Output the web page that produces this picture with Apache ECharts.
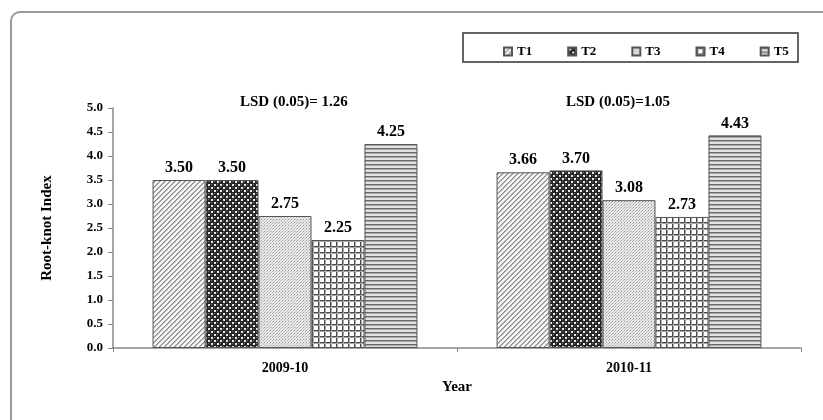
<!DOCTYPE html>
<html><head><meta charset="utf-8">
<script src="https://cdn.jsdelivr.net/npm/echarts@6/dist/echarts.min.js"></script>
<style>html,body{margin:0;padding:0;background:#fff}#c{width:823px;height:420px}</style>
</head><body><div id="c"></div>
<script>
const categories = ['2009-10', '2010-11'];
const seriesNames = ['T1', 'T2', 'T3', 'T4', 'T5'];
const T1 = [3.50, 3.66];
const T2 = [3.50, 3.70];
const T3 = [2.75, 3.08];
const T4 = [2.25, 2.73];
const T5 = [4.25, 4.43];
const lsdTexts = ['LSD (0.05)= 1.26', 'LSD (0.05)=1.05'];
const yTicks = [0, 5, 0.5];

function tile(w, h, draw) {
  const c = document.createElement('canvas');
  c.width = w; c.height = h;
  const g = c.getContext('2d');
  draw(g, w, h);
  return { image: c, repeat: 'repeat' };
}
function px(g, x, y, col) { g.fillStyle = col; g.fillRect(x, y, 1, 1); }

const patterns = [
  tile(5, 5, (g, w, h) => { g.fillStyle = '#f6f6f6'; g.fillRect(0,0,w,h);
    for (let x=0;x<w;x++) for (let y=0;y<h;y++) { const k=(x+y)%5; if (k===0) px(g,x,y,'#8a8a8a'); else if (k===1) px(g,x,y,'#b4b4b4'); } }),
  tile(6, 6, (g, w, h) => { g.fillStyle = '#262626'; g.fillRect(0,0,w,h);
    g.fillStyle='#e8e8e8'; g.fillRect(1,1,2,2); g.fillRect(4,4,2,2);
    g.fillStyle='#777'; g.fillRect(4,1,1,1); g.fillRect(1,4,1,1); }),
  tile(3, 3, (g, w, h) => { g.fillStyle = '#eaeaea'; g.fillRect(0,0,w,h);
    px(g,0,0,'#9a9a9a'); px(g,2,1,'#b8b8b8'); px(g,1,2,'#c8c8c8'); }),
  tile(6, 6, (g, w, h) => { g.fillStyle = '#fdfdfd'; g.fillRect(0,0,w,h);
    g.fillStyle='#4a4a4a'; g.fillRect(0,0,1,h); g.fillRect(0,0,w,1);
    g.fillStyle='#a8a8a8'; g.fillRect(1,0,1,h); g.fillRect(0,1,w,1); }),
  tile(4, 4, (g, w, h) => { g.fillStyle = '#e2e2e2'; g.fillRect(0,0,w,h);
    g.fillStyle='#6a6a6a'; g.fillRect(0,0,w,1); g.fillStyle='#a8a8a8'; g.fillRect(0,1,w,1); })
];
const dataSets = [T1, T2, T3, T4, T5];
const serif = 'Liberation Serif';

const chart = echarts.init(document.getElementById('c'), null, { renderer: 'canvas' });
chart.setOption({
  animation: false,
  backgroundColor: '#fff',
  grid: { left: 113, right: 22, top: 108, bottom: 72 },
  legend: {
    left: 498, top: 40, itemWidth: 8, itemHeight: 8, itemGap: 35,
    icon: 'rect',
    textStyle: { fontFamily: serif, fontWeight: 'bold', fontSize: 13, color: '#000' },
    data: seriesNames
  },
  xAxis: {
    type: 'category', data: categories,
    name: 'Year', nameLocation: 'middle', nameGap: 31,
    nameTextStyle: { fontFamily: serif, fontWeight: 'bold', fontSize: 15, color: '#000' },
    axisLine: { lineStyle: { color: '#888', width: 1.5 } },
    axisTick: { show: true, length: 4, lineStyle: { color: '#888' } },
    axisLabel: { fontFamily: serif, fontWeight: 'bold', fontSize: 14, color: '#000', margin: 13 }
  },
  yAxis: {
    type: 'value', min: yTicks[0], max: yTicks[1], interval: yTicks[2],
    name: 'Root-knot Index', nameLocation: 'middle', nameGap: 58, nameRotate: 90,
    nameTextStyle: { fontFamily: serif, fontWeight: 'bold', fontSize: 15, color: '#000' },
    axisLine: { show: true, lineStyle: { color: '#888', width: 1.5 } },
    axisTick: { show: true, length: 5, lineStyle: { color: '#888' } },
    splitLine: { show: false },
    axisLabel: { fontFamily: serif, fontWeight: 'bold', fontSize: 13, color: '#000', margin: 10,
      formatter: v => v.toFixed(1) }
  },
  series: seriesNames.map((n, i) => ({
    name: n, type: 'bar', data: dataSets[i],
    barGap: '0%', barCategoryGap: '23%',
    itemStyle: { color: patterns[i], borderColor: '#555', borderWidth: 1 },
    label: { show: true, position: 'top', distance: 4, fontFamily: serif, fontWeight: 'bold',
      fontSize: 16, color: '#000', formatter: p => p.value.toFixed(2) }
  })),
  graphic: [
    { type: 'rect', silent: true, shape: { x: 11, y: 12, width: 860, height: 460, r: 9 },
      style: { fill: 'none', stroke: '#9a9a9a', lineWidth: 2 } },
    { type: 'rect', silent: true, shape: { x: 463, y: 33, width: 335, height: 29 },
      style: { fill: 'none', stroke: '#333', lineWidth: 1.5 } },
    { type: 'text', silent: true, x: 240, y: 102,
      style: { text: lsdTexts[0], font: 'bold 15px "Liberation Serif"', fill: '#000', textVerticalAlign: 'middle' } },
    { type: 'text', silent: true, x: 566, y: 102,
      style: { text: lsdTexts[1], font: 'bold 15px "Liberation Serif"', fill: '#000', textVerticalAlign: 'middle' } }
  ]
});
</script></body></html>
